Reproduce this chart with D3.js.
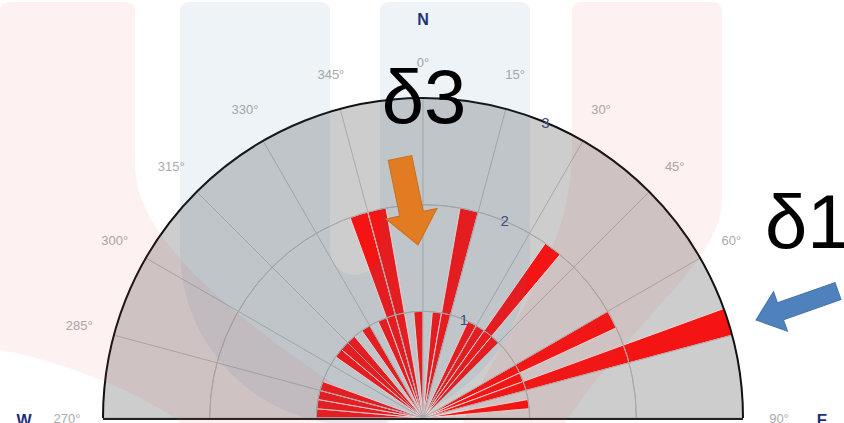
<!DOCTYPE html>
<html><head><meta charset="utf-8">
<script src="https://cdn.jsdelivr.net/npm/d3@7"></script>
<style>html,body{margin:0;padding:0;background:#fff;overflow:hidden}</style>
</head><body><svg id="c" width="844" height="423"></svg>
<script>
// ---- data ----
const binStarts = [270,275,280,285,305,310,315,325,335,340,345,355,5,10,25,30,35,40,60,65,70,80];
const counts    = [1,1,1,1,1,1,1,1,1,2,2,1,1,2,1,1,2,1,2,1,3,1];
const binWidth = 5;
const ringValues = [1,2,3];
const gridAngles = [270,285,300,315,330,345,0,15,30,45,60,75,90];
const angleLabels = [270,285,300,315,330,345,0,15,30,45,60,90];
const compassLabels = ["N","W","E"];
const compassBearings = [0,270,90];
const annotationTexts = ["δ3","δ1"];

// ---- layout ----
const W = 844, H = 423;
const cx = 423, cy = 418, R = 320;
const svg = d3.select("#c");
const rad = d => d * Math.PI / 180;
const a = d3.scaleLinear().domain([0,360]).range([0, 2*Math.PI]);
const r = d3.scaleLinear().domain([0,3]).range([0,R]);
const norm = b => b > 180 ? b - 360 : b;

svg.append("rect").attr("width",W).attr("height",H).attr("fill","#fff");
const g = svg.append("g").attr("transform",`translate(${cx},${cy})`);

// disk
g.append("path").attr("d", d3.arc()({innerRadius:0, outerRadius:R, startAngle:-Math.PI/2, endAngle:Math.PI/2}))
  .attr("fill","#cdcdcd");

// background watermark shapes
const deco = svg.append("g");
deco.append("path").attr("fill","rgb(230,70,70)").attr("fill-opacity",0.075)
  .attr("d","M0,12 Q0,2 10,2 H125 Q135,2 135,12 V165 C135,260 300,360 400,430 H190 C150,395 60,360 0,350 Z");
deco.append("path").attr("fill","rgb(230,70,70)").attr("fill-opacity",0.075)
  .attr("d","M572,12 Q572,2 582,2 H712 Q722,2 722,12 V200 C722,260 640,310 560,430 H460 C500,330 572,260 572,150 Z");
deco.append("path").attr("fill","rgb(70,120,170)").attr("fill-opacity",0.09)
  .attr("d","M180,12 Q180,2 190,2 H320 Q330,2 330,12 V250 A25,25 0 0 0 380,250 V12 Q380,2 390,2 H520 Q530,2 530,12 V250 A175,175 0 0 1 180,250 Z");

// bars
const bars = binStarts.map((b,i)=>({s:norm(b), v:counts[i]}));
g.selectAll("path.bar").data(bars).enter().append("path").attr("class","bar")
  .attr("d", d => d3.arc()({innerRadius:0, outerRadius:r(d.v), startAngle:a(d.s), endAngle:a(d.s+binWidth)}))
  .attr("fill","#f41414").attr("stroke","#f6dada").attr("stroke-width",1);

// grid rings
ringValues.slice(0,2).forEach(v=>{
  g.append("path").attr("d", d3.arc()({innerRadius:r(v), outerRadius:r(v), startAngle:-Math.PI/2, endAngle:Math.PI/2}))
   .attr("fill","none").attr("stroke","#a9a9a9").attr("stroke-width",1);
});
// radial lines
gridAngles.forEach(t=>{
  const th = rad(t);
  g.append("line").attr("x1",0).attr("y1",0)
   .attr("x2", r(3)*Math.sin(th)).attr("y2", -r(3)*Math.cos(th))
   .attr("stroke","#a9a9a9").attr("stroke-width",1);
});
// outer circle + base
g.append("path").attr("d", d3.arc()({innerRadius:R, outerRadius:R, startAngle:-Math.PI/2, endAngle:Math.PI/2}))
  .attr("fill","none").attr("stroke","#111").attr("stroke-width",2);
g.append("line").attr("x1",-R).attr("x2",R).attr("y1",1).attr("y2",1).attr("stroke","#222").attr("stroke-width",2);

// angle tick labels
const LR = 356;
g.selectAll("text.tick").data(angleLabels).enter().append("text").attr("class","tick")
  .attr("x", d => LR*Math.sin(rad(d))).attr("y", d => -LR*Math.cos(rad(d)))
  .attr("text-anchor","middle").attr("dominant-baseline","central")
  .attr("font-family","Liberation Sans, Arial, sans-serif").attr("font-size",13)
  .attr("fill","#ababab").text(d => d + "°");

// ring labels
g.selectAll("text.ring").data(ringValues).enter().append("text").attr("class","ring")
  .attr("x", d => r(d)*Math.sin(rad(22.5))).attr("y", d => -r(d)*Math.cos(rad(22.5)))
  .attr("text-anchor","middle").attr("dominant-baseline","central")
  .attr("font-family","Liberation Sans, Arial, sans-serif").attr("font-size",15)
  .attr("fill","#3b4a7a").text(d => d);

// compass
const CR = 399;
compassLabels.forEach((t,i)=>{
  const th = rad(compassBearings[i]);
  g.append("text").attr("x", CR*Math.sin(th)).attr("y", -CR*Math.cos(th) + (i===0?0:2))
   .attr("text-anchor","middle").attr("dominant-baseline","central")
   .attr("font-family","Liberation Sans, Arial, sans-serif").attr("font-size",16).attr("font-weight","bold")
   .attr("fill","#1f2d7a").text(t);
});

// arrows
function arrow(x1,y1,x2,y2,sw,hw,hl,color){
  const L = Math.hypot(x2-x1,y2-y1), ang = Math.atan2(y2-y1,x2-x1)*180/Math.PI;
  const pts = [[0,-sw/2],[L-hl,-sw/2],[L-hl,-hw/2],[L,0],[L-hl,hw/2],[L-hl,sw/2],[0,sw/2]];
  svg.append("path").attr("d","M"+pts.map(p=>p.join(",")).join("L")+"Z")
    .attr("transform",`translate(${x1},${y1}) rotate(${ang})`)
    .attr("fill",color).attr("stroke",d3.color(color).darker(0.3)).attr("stroke-width",1);
}
arrow(400,158,418,245,24,52,32,"#e27c22");
arrow(838,291,756,320,18,42,26,"#4f81bd");

// big annotations
svg.append("text").attr("x",424).attr("y",123).attr("text-anchor","middle")
  .attr("font-family","Liberation Sans, Arial, sans-serif").attr("font-size",76).attr("fill","#000").text(annotationTexts[0]);
svg.append("text").attr("x",765).attr("y",248).attr("text-anchor","start")
  .attr("font-family","Liberation Sans, Arial, sans-serif").attr("font-size",76).attr("fill","#000").text(annotationTexts[1]);
</script></body></html>
